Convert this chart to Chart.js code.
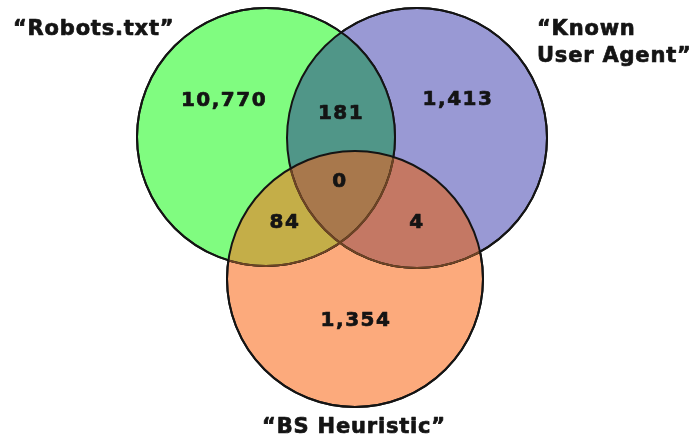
<!DOCTYPE html>
<html>
<head>
<meta charset="utf-8">
<script src="https://cdn.jsdelivr.net/npm/chart.js@4/dist/chart.umd.min.js"></script>
<style>
  html, body { margin: 0; padding: 0; background: #fff; }
  #wrap { width: 690px; height: 439px; position: relative; }
</style>
</head>
<body>
<div id="wrap"><canvas id="venn"></canvas></div>
<script>
// sets: Robots.txt, Known User Agent, BS Heuristic
const setNames = ['\u201CRobots.txt\u201D', ['\u201CKnown', 'User Agent\u201D'], '\u201CBS Heuristic\u201D'];
const setCenterX = [266, 417, 355];
const setCenterY = [137, 138, 279];
const setRadius = [129, 130, 128];

// region counts (R = robots, K = known UA, B = BS heuristic)
const regionKeys = ['R', 'K', 'B', 'RK', 'RB', 'KB', 'RKB'];
const regionCounts = [10770, 1413, 1354, 181, 84, 4, 0];

// where the counts are written (chart units)
const regionLabelX = [223, 457, 355, 340, 284, 416, 339];
const regionLabelY = [101, 100, 321, 114, 223, 223, 182];

// where the set names are written
const nameX = [13, 537, 354];
const nameY = [30, 30, 428];
const nameAlign = ['left', 'left', 'center'];

const setColors = ['#80fc80', '#9999d4', '#fcaa7c'];
const pairColors = { RK: '#509688', RB: '#c4ae48', KB: '#c47864' };
const tripleColor = '#a8784c';

function circleOf(chart, i) {
    const el = chart.getDatasetMeta(i).data[0];
    return { x: el.x, y: el.y, r: el.options.radius };
}

function circlePath(ctx, c) {
    ctx.beginPath();
    ctx.arc(c.x, c.y, c.r, 0, Math.PI * 2);
}

const overlapPlugin = {
    id: 'overlaps',
    afterDatasetsDraw(chart) {
        const ctx = chart.ctx;
        const c = [0, 1, 2].map(i => circleOf(chart, i));
        const fillIn = (ids, color) => {
            ctx.save();
            ids.forEach(i => { circlePath(ctx, c[i]); ctx.clip(); });
            ctx.fillStyle = color;
            ctx.fillRect(0, 0, chart.width, chart.height);
            ctx.restore();
        };
        fillIn([0, 1], pairColors.RK);
        fillIn([0, 2], pairColors.RB);
        fillIn([1, 2], pairColors.KB);
        fillIn([0, 1, 2], tripleColor);

        // outlines
        ctx.save();
        ctx.lineWidth = 2;
        ctx.strokeStyle = '#141414';
        [0, 1].forEach(i => { circlePath(ctx, c[i]); ctx.stroke(); });
        ctx.restore();

        // green and blue edges show through the orange a little
        ctx.save();
        circlePath(ctx, c[2]);
        ctx.clip();
        ctx.lineWidth = 2;
        ctx.strokeStyle = '#6e4424';
        [0, 1].forEach(i => { circlePath(ctx, c[i]); ctx.stroke(); });
        ctx.restore();

        ctx.save();
        ctx.lineWidth = 2;
        ctx.strokeStyle = '#141414';
        circlePath(ctx, c[2]);
        ctx.stroke();
        ctx.restore();
    }
};

function heavyText(ctx, text, x, y) {
    ctx.fillText(text, x, y);
    ctx.strokeText(text, x, y);
}

const labelPlugin = {
    id: 'vennLabels',
    afterDraw(chart) {
        const ctx = chart.ctx;
        const xs = chart.scales.x, ys = chart.scales.y;
        ctx.save();
        ctx.fillStyle = '#141414';
        ctx.strokeStyle = '#141414';
        ctx.lineWidth = 0.7;
        ctx.lineJoin = 'round';
        ctx.textBaseline = 'middle';

        ctx.font = 'bold 20px "DejaVu Sans", Verdana, sans-serif';
        ctx.letterSpacing = '1.5px';
        ctx.textAlign = 'center';
        regionCounts.forEach((v, i) => {
            heavyText(ctx, v.toLocaleString('en-US'),
                xs.getPixelForValue(regionLabelX[i]) + 1,
                ys.getPixelForValue(regionLabelY[i]));
        });

        ctx.font = 'bold 21px "DejaVu Sans", Verdana, sans-serif';
        ctx.letterSpacing = '0.8px';
        setNames.forEach((name, i) => {
            const lines = Array.isArray(name) ? name : [name];
            ctx.textAlign = nameAlign[i];
            lines.forEach((line, j) => {
                heavyText(ctx, line,
                    xs.getPixelForValue(nameX[i]),
                    ys.getPixelForValue(nameY[i] + j * 27));
            });
        });
        ctx.restore();
    }
};

new Chart(document.getElementById('venn'), {
    type: 'bubble',
    data: {
        datasets: [0, 1, 2].map(i => ({
            label: Array.isArray(setNames[i]) ? setNames[i].join(' ') : setNames[i],
            data: [{ x: setCenterX[i], y: setCenterY[i], r: setRadius[i] }],
            backgroundColor: setColors[i],
            borderColor: '#141414',
            borderWidth: 2,
            clip: false
        }))
    },
    options: {
        responsive: true,
        maintainAspectRatio: false,
        animation: false,
        events: [],
        layout: { padding: 0, autoPadding: false },
        plugins: { legend: { display: false }, tooltip: { enabled: false } },
        scales: {
            x: { type: 'linear', min: 0, max: 690, display: false },
            y: { type: 'linear', min: 0, max: 439, reverse: true, display: false }
        }
    },
    plugins: [overlapPlugin, labelPlugin]
});
</script>
</body>
</html>
